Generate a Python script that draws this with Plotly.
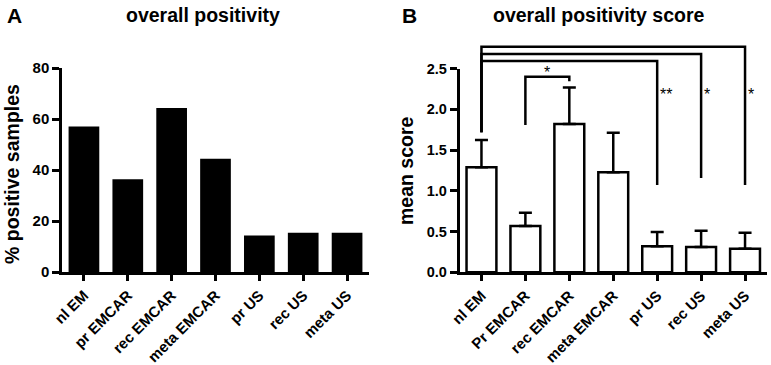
import plotly.graph_objects as go

# ---- data ----
cats_a = ["nl EM", "pr EMCAR", "rec EMCAR", "meta EMCAR", "pr US", "rec US", "meta US"]
pct_positive = [57.1, 36.4, 64.3, 44.4, 14.3, 15.4, 15.4]

cats_b = ["nl EM", "Pr EMCAR", "rec EMCAR", "meta EMCAR", "pr US", "rec US", "meta US"]
mean_score = [1.29, 0.57, 1.82, 1.23, 0.32, 0.31, 0.29]
sem_score = [0.335, 0.16, 0.45, 0.485, 0.175, 0.20, 0.195]

# significance comparisons (index pairs), bracket heights, leg bottoms, labels
comp_left = [0, 0, 0, 1]
comp_right = [4, 5, 6, 2]
comp_top = [2.594, 2.681, 2.770, 2.402]
comp_left_bottom = [1.719, 1.719, 1.719, 1.809]
comp_right_bottom = [1.072, 1.158, 1.072, 2.345]
comp_label = ["**", "*", "*", "*"]
star_level = 2.23

FONT = "Liberation Sans, Arial, sans-serif"
W, H = 771, 365

def px_to_paper_y(py):
    return (H - py) / H

ya_dom = [px_to_paper_y(272), px_to_paper_y(68)]
yb_dom = [px_to_paper_y(272.3), px_to_paper_y(68.7)]
xa_dom = [62 / W, 369 / W]
xb_dom = [459.5 / W, 767 / W]
# overlay axis for brackets, same scale as y2 but taller domain
yc_top = 0.99
yc_range_max = 2.5 * (yc_top - yb_dom[0]) / (yb_dom[1] - yb_dom[0])

fig = go.Figure()

fig.add_trace(go.Bar(
    x=cats_a, y=pct_positive, xaxis="x", yaxis="y",
    marker=dict(color="black", line=dict(width=0)), width=0.7,
    showlegend=False, hoverinfo="skip",
))

fig.add_trace(go.Bar(
    x=cats_b, y=mean_score, xaxis="x2", yaxis="y2",
    marker=dict(color="white", line=dict(color="black", width=2.5)), width=0.68,
    error_y=dict(type="data", array=sem_score, arrayminus=[0] * len(sem_score),
                 symmetric=False, color="black", thickness=2.5, width=6.5),
    showlegend=False, hoverinfo="skip",
))

# brackets
for l, r, top, lb, rb in zip(comp_left, comp_right, comp_top, comp_left_bottom, comp_right_bottom):
    fig.add_trace(go.Scatter(
        x=[cats_b[l], cats_b[l], cats_b[r], cats_b[r]],
        y=[lb, top, top, rb],
        xaxis="x2", yaxis="y3", mode="lines",
        line=dict(color="black", width=2.5),
        showlegend=False, hoverinfo="skip",
    ))

star_font = dict(family=FONT, size=16, color="black")
annotations = []
for l, r, top, lab in zip(comp_left, comp_right, comp_top, comp_label):
    if r - l == 1:
        annotations.append(dict(
            x=(l + r) / 2, y=top, xref="x2", yref="y3",
            text=lab, showarrow=False, font=star_font,
            xanchor="center", yanchor="bottom", yshift=-6,
        ))
    else:
        annotations.append(dict(
            x=r, y=star_level, xref="x2", yref="y3",
            text=lab, showarrow=False, font=star_font,
            xanchor="left", yanchor="middle", xshift=1, yshift=-4,
        ))

def paper_text(x, y, text, size, angle=0):
    return dict(x=x / W, y=px_to_paper_y(y), xref="paper", yref="paper", text=text,
                showarrow=False, font=dict(family=FONT, size=size, color="black"),
                xanchor="center", yanchor="middle", textangle=angle)

annotations += [
    paper_text(14, 15, "<b>A</b>", 21),
    paper_text(409, 15, "<b>B</b>", 21),
    paper_text(202.5, 15, "<b>overall positivity</b>", 19.5),
    paper_text(598, 15, "<b>overall positivity score</b>", 19.5),
    paper_text(12, 174, "<b>% positive samples</b>", 19.5, -90),
    paper_text(406, 171, "<b>mean score</b>", 19.5, -90),
]

tickfont_a = dict(family=FONT, size=15, color="black", weight="bold")
tickfont_b = dict(family=FONT, size=14.5, color="black", weight="bold")
xt_font = dict(family=FONT, size=15, color="black", weight="bold")

common_x = dict(showgrid=False, zeroline=False, showline=True, linecolor="black",
                linewidth=2.5, ticks="outside", ticklen=6, tickwidth=2.5,
                tickcolor="black", tickangle=-45, tickfont=xt_font, fixedrange=True,
                automargin=False)
common_y = dict(showgrid=False, zeroline=False, showline=True, linecolor="black",
                linewidth=2.5, ticks="outside", ticklen=7, tickwidth=2.5,
                tickcolor="black", fixedrange=True, automargin=False)

fig.update_layout(
    template="none",
    width=W, height=H,
    margin=dict(l=0, r=0, t=0, b=0, pad=0),
    paper_bgcolor="white", plot_bgcolor="rgba(0,0,0,0)",
    xaxis=dict(domain=xa_dom, anchor="y", range=[-0.5, 6.5], **common_x),
    yaxis=dict(domain=ya_dom, anchor="x", range=[0, 80], tickvals=[0, 20, 40, 60, 80],
               tickfont=tickfont_a, **common_y),
    xaxis2=dict(domain=xb_dom, anchor="y2", range=[-0.5, 6.5], **common_x),
    yaxis2=dict(domain=yb_dom, anchor="x2", range=[0, 2.5],
                tickvals=[0, 0.5, 1.0, 1.5, 2.0, 2.5], tickformat=".1f",
                tickfont=tickfont_b, **common_y),
    yaxis3=dict(domain=[yb_dom[0], yc_top], anchor="x2", range=[0, yc_range_max],
                visible=False, fixedrange=True),
    annotations=annotations,
)

fig.write_html("out.html", config={"displayModeBar": False},
               post_script="document.body.style.margin='0px';document.body.style.overflow='hidden';")
